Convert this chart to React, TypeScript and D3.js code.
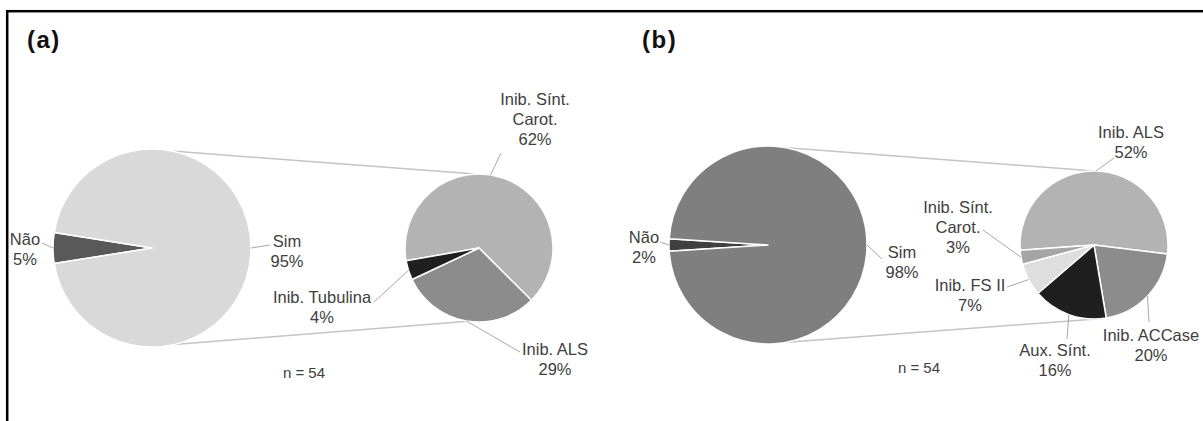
import React from "react";
import * as d3 from "d3";

// ---------- DATA ----------
const panelTitles = ["(a)", "(b)"];
const sampleSizes = [54, 54];

const bigCategoriesA = ["Não", "Sim"];
const bigValuesA = [5, 95];
const smallCategoriesA = ["Inib. Sínt. Carot.", "Inib. ALS", "Inib. Tubulina"];
const smallValuesA = [62, 29, 4];

const bigCategoriesB = ["Não", "Sim"];
const bigValuesB = [2, 98];
const smallCategoriesB = ["Inib. ALS", "Inib. ACCase", "Aux. Sínt.", "Inib. FS II", "Inib. Sínt. Carot."];
const smallValuesB = [52, 20, 16, 7, 3];

// ---------- STYLE / LAYOUT ----------
const W = 1203;
const H = 421;
const FONT = "'Liberation Sans', Arial, Helvetica, sans-serif";
const FS = 16.5;
const LINE = 20;
const TEXT = "#404040";
const LEADER = "#a8a8a8";
const CONNECT = "#c4c4c4";

type LabelPos = { cx: number; cy: number; end: [number, number]; angle?: number };

interface PanelCfg {
  title: string;
  titleX: number;
  n: number;
  nPos: [number, number];
  big: { cats: string[]; vals: number[]; colors: string[]; c: [number, number]; r: number; labels: LabelPos[] };
  small: { cats: string[]; vals: number[]; colors: string[]; c: [number, number]; r: number; startDeg: number; labels: LabelPos[] };
  conn: { bigTop: number; smallTop: number; bigBot: number; smallBot: number };
}

const panels: PanelCfg[] = [
  {
    title: panelTitles[0],
    titleX: 27,
    n: sampleSizes[0],
    nPos: [304, 372],
    big: {
      cats: bigCategoriesA,
      vals: bigValuesA,
      colors: ["#595959", "#d9d9d9"],
      c: [152, 248],
      r: 99,
      labels: [
        { cx: 25, cy: 239, end: [42, 243] },
        { cx: 287, cy: 241, end: [270, 245] },
      ],
    },
    small: {
      cats: smallCategoriesA,
      vals: smallValuesA,
      colors: ["#b3b3b3", "#8c8c8c", "#1f1f1f"],
      c: [479, 248],
      r: 74,
      startDeg: -100,
      labels: [
        { cx: 535, cy: 99, end: [501, 153], angle: 9 },
        { cx: 555, cy: 349, end: [520, 352] },
        { cx: 322, cy: 297, end: [374, 302] },
      ],
    },
    conn: { bigTop: 11.7, smallTop: -3, bigBot: 167, smallBot: 188.5 },
  },
  {
    title: panelTitles[1],
    titleX: 642,
    n: sampleSizes[1],
    nPos: [919, 367],
    big: {
      cats: bigCategoriesB,
      vals: bigValuesB,
      colors: ["#404040", "#7f7f7f"],
      c: [768, 245],
      r: 99,
      labels: [
        { cx: 644, cy: 237, end: [660, 242] },
        { cx: 902, cy: 252, end: [882, 259] },
      ],
    },
    small: {
      cats: smallCategoriesB,
      vals: smallValuesB,
      colors: ["#b3b3b3", "#8c8c8c", "#1f1f1f", "#dedede", "#a5a5a5"],
      c: [1094, 245],
      r: 74,
      startDeg: -94,
      labels: [
        { cx: 1131, cy: 132, end: [1114, 158] },
        { cx: 1151, cy: 335, end: [1149, 322] },
        { cx: 1055, cy: 350, end: [1067, 339] },
        { cx: 970, cy: 285, end: [1007, 287] },
        { cx: 958, cy: 207, end: [983, 230] },
      ],
    },
    conn: { bigTop: 11, smallTop: 0, bigBot: 169, smallBot: 173 },
  },
];

const rad = (d: number) => (d * Math.PI) / 180;
const pt = (c: [number, number], r: number, angRad: number): [number, number] => [
  c[0] + r * Math.sin(angRad),
  c[1] - r * Math.cos(angRad),
];
const splitLines = (name: string) => name.replace("Sínt. ", "Sínt.\n").split("\n");

function Label({ lines, pos, pieC, pieR, angle }: { lines: string[]; pos: LabelPos; pieC: [number, number]; pieR: number; angle: number }) {
  const a = pt(pieC, pieR, angle);
  return (
    <g>
      <line x1={a[0]} y1={a[1]} x2={pos.end[0]} y2={pos.end[1]} stroke={LEADER} strokeWidth={1} />
      {lines.map((t, i) => (
        <text
          key={i}
          x={pos.cx}
          y={pos.cy + i * LINE + FS * 0.35}
          textAnchor="middle"
          fontFamily={FONT}
          fontSize={FS}
          fill={TEXT}
        >
          {t}
        </text>
      ))}
    </g>
  );
}

function Panel({ p }: { p: PanelCfg }) {
  const bigTotal = d3.sum(p.big.vals);
  // rotate so the first slice (Não) is centred on the left
  const bigStart = 1.5 * Math.PI - (p.big.vals[0] / bigTotal) * Math.PI;
  const bigPie = d3.pie<number>().sort(null).value((d) => d).startAngle(bigStart).endAngle(bigStart + 2 * Math.PI)(p.big.vals);
  const bigArc = d3.arc<d3.PieArcDatum<number>>().innerRadius(0).outerRadius(p.big.r);

  const smallStart = rad(p.small.startDeg);
  const smallPie = d3.pie<number>().sort(null).value((d) => d).startAngle(smallStart).endAngle(smallStart + 2 * Math.PI)(p.small.vals);
  const smallArc = d3.arc<d3.PieArcDatum<number>>().innerRadius(0).outerRadius(p.small.r);

  const t1 = pt(p.big.c, p.big.r, rad(p.conn.bigTop));
  const t2 = pt(p.small.c, p.small.r, rad(p.conn.smallTop));
  const b1 = pt(p.big.c, p.big.r, rad(p.conn.bigBot));
  const b2 = pt(p.small.c, p.small.r, rad(p.conn.smallBot));

  return (
    <g>
      <text x={p.titleX} y={48} fontFamily={FONT} fontWeight="bold" fontSize={24} fill="#111" letterSpacing={1.5}>
        {p.title}
      </text>
      <line x1={t1[0]} y1={t1[1]} x2={t2[0]} y2={t2[1]} stroke={CONNECT} strokeWidth={1.5} />
      <line x1={b1[0]} y1={b1[1]} x2={b2[0]} y2={b2[1]} stroke={CONNECT} strokeWidth={1.5} />
      <g transform={`translate(${p.big.c[0]},${p.big.c[1]})`}>
        {bigPie.map((d, i) => (
          <path key={i} d={bigArc(d) || ""} fill={p.big.colors[i]} stroke="#ffffff" strokeWidth={1.5} strokeLinejoin="round" />
        ))}
      </g>
      <g transform={`translate(${p.small.c[0]},${p.small.c[1]})`}>
        {smallPie.map((d, i) => (
          <path key={i} d={smallArc(d) || ""} fill={p.small.colors[i]} stroke="#ffffff" strokeWidth={1.5} strokeLinejoin="round" />
        ))}
      </g>
      {bigPie.map((d, i) => (
        <Label
          key={"bl" + i}
          lines={[p.big.cats[i], `${p.big.vals[i]}%`]}
          pos={p.big.labels[i]}
          pieC={p.big.c}
          pieR={p.big.r}
          angle={p.big.labels[i].angle !== undefined ? rad(p.big.labels[i].angle as number) : (d.startAngle + d.endAngle) / 2}
        />
      ))}
      {smallPie.map((d, i) => (
        <Label
          key={"sl" + i}
          lines={[...splitLines(p.small.cats[i]), `${p.small.vals[i]}%`]}
          pos={p.small.labels[i]}
          pieC={p.small.c}
          pieR={p.small.r}
          angle={p.small.labels[i].angle !== undefined ? rad(p.small.labels[i].angle as number) : (d.startAngle + d.endAngle) / 2}
        />
      ))}
      <text x={p.nPos[0]} y={p.nPos[1] + FS * 0.35} textAnchor="middle" fontFamily={FONT} fontSize={15} fill={TEXT}>
        {`n = ${p.n}`}
      </text>
    </g>
  );
}

export default function App() {
  return (
    <svg
      width={W}
      height={H}
      viewBox={`0 0 ${W} ${H}`}
      style={{ position: "absolute", left: 0, top: 0, display: "block", background: "#fff" }}
    >
      <rect x={0} y={0} width={W} height={H} fill="#fff" />
      <rect x={7.2} y={11.2} width={W + 20} height={H + 20} fill="none" stroke="#000" strokeWidth={2.5} />
      {panels.map((p, i) => (
        <Panel key={i} p={p} />
      ))}
    </svg>
  );
}
